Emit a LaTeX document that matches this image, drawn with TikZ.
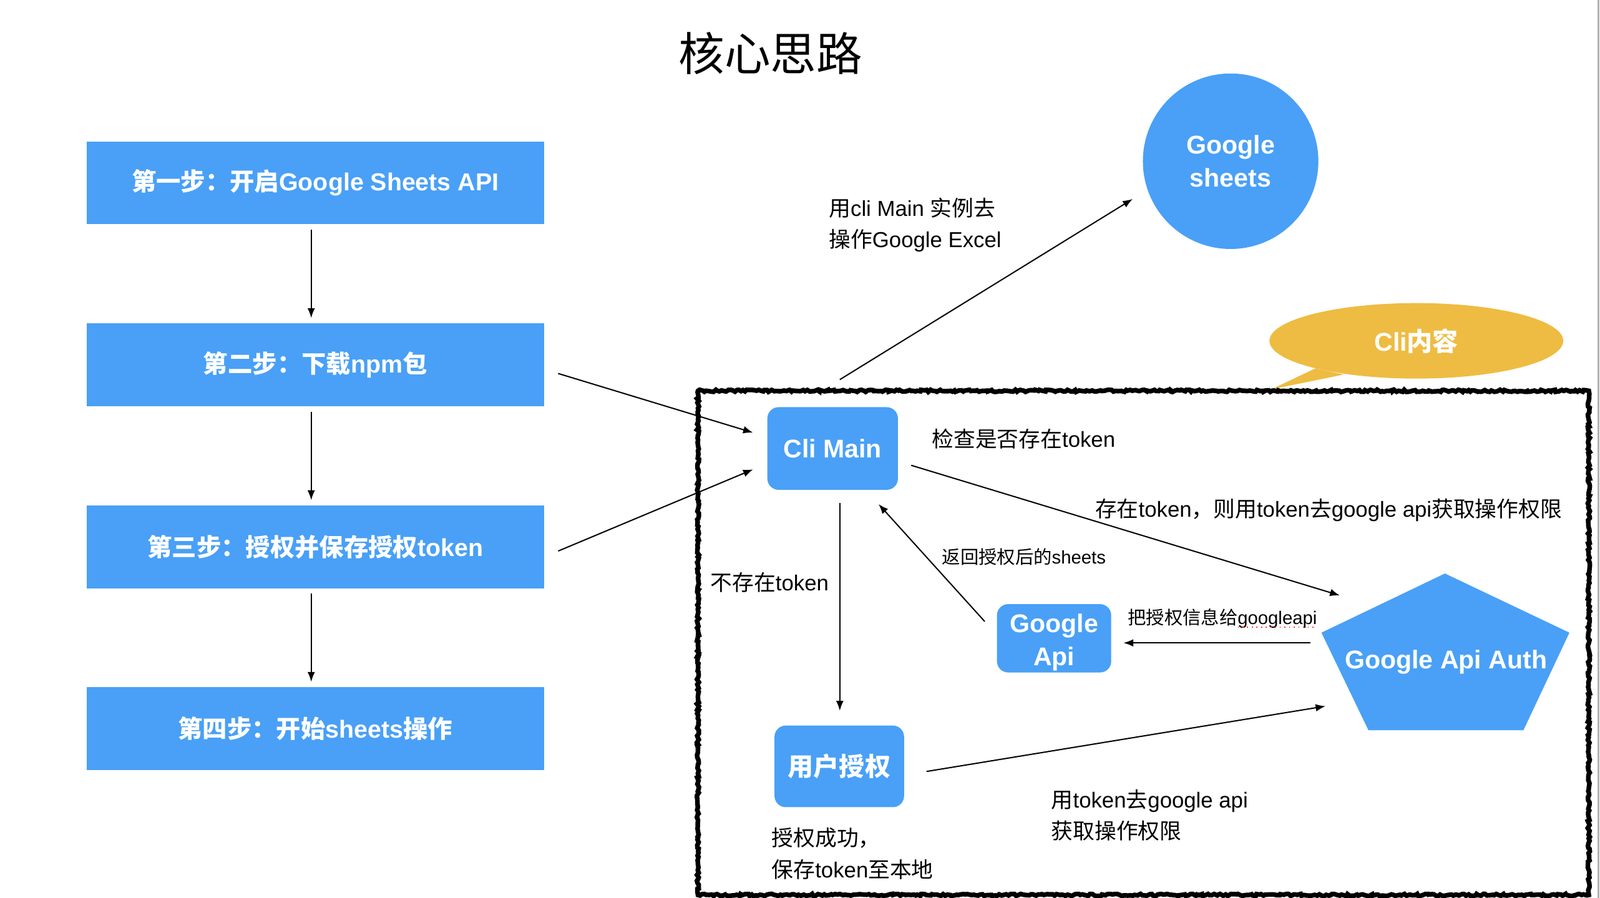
\documentclass[tikz,border=0pt]{standalone}
\usepackage{fontspec}
\setmainfont{Liberation Sans}
\newfontfamily\zh{Noto Sans CJK SC}
\usetikzlibrary{arrows.meta,shapes.geometric,decorations.pathmorphing}
\definecolor{stepblue}{RGB}{73,160,246}
\definecolor{cliyellow}{RGB}{238,188,66}
\tikzset{
  stepbox/.style={fill=stepblue,text=white,font=\bfseries\fontsize{13.7}{16}\selectfont,minimum width=8.96cm,minimum height=1.62cm,inner sep=0},
  clibox/.style={fill=stepblue,text=white,rounded corners=0.22cm,font=\bfseries\fontsize{14.3}{18.2}\selectfont,align=center,inner sep=0},
  arr/.style={-{Latex[length=5.5pt,width=4.2pt]},line width=0.7pt},
  lbl/.style={font=\fontsize{12.1}{17.6}\selectfont,align=left,anchor=west,inner sep=0},
  smalllbl/.style={font=\fontsize{10.2}{13}\selectfont,anchor=west,inner sep=0}
}
\begin{document}
\begin{tikzpicture}[x=0.02cm,y=-0.02cm]
\useasboundingbox (0,0) rectangle (1568,880);
\draw[line width=1pt,black!30] (1566.5,0) -- (1566.5,880);
\node[font=\zh\fontsize{25.6}{30}\selectfont] (title) at (755,52) {核心思路};
\node[stepbox] (step1) at (309,179) {{\zh 第一步：开启}Google Sheets API};
\node[stepbox] (step2) at (309,357.5) {{\zh 第二步：下载}npm{\zh 包}};
\node[stepbox] (step3) at (309,536) {{\zh 第三步：授权并保存授权}token};
\node[stepbox] (step4) at (309,714) {{\zh 第四步：开始}sheets{\zh 操作}};
\draw[arr,shorten <=0.1cm,shorten >=0.1cm] ([xshift=-0.08cm]step1.south) -- ([xshift=-0.08cm]step2.north);
\draw[arr,shorten <=0.1cm,shorten >=0.1cm] ([xshift=-0.08cm]step2.south) -- ([xshift=-0.08cm]step3.north);
\draw[arr,shorten <=0.1cm,shorten >=0.1cm] ([xshift=-0.08cm]step3.south) -- ([xshift=-0.08cm]step4.north);
\node[circle,fill=stepblue,text=white,minimum size=3.44cm,inner sep=0,align=center,font=\bfseries\fontsize{14.3}{18.2}\selectfont] (sheets) at (1206,158) {Google\\sheets};
\fill[cliyellow] (1289,361) -- (1246,381.5) -- (1317,367) -- cycle;
\node[ellipse,fill=cliyellow,text=white,minimum width=5.76cm,minimum height=1.48cm,inner sep=0,font=\bfseries\fontsize{14.3}{18.2}\selectfont] (cli) at (1388,334) {Cli{\zh 内容}};
\draw[line width=2.6pt,decorate,decoration={random steps,segment length=1.2pt,amplitude=0.6pt}] (684,383) rectangle (1557,877);
\node[clibox,minimum width=2.56cm,minimum height=1.62cm] (climain) at (816,439.5) {Cli Main};
\node[clibox,minimum width=2.24cm,minimum height=1.34cm] (gapi) at (1033,625.5) {\rule{0pt}{15pt}Google\\Api};
\node[clibox,minimum width=2.54cm,minimum height=1.6cm] (user) at (822.5,751) {\zh 用户授权};
\fill[stepblue] (1416,562) -- (1538,620) -- (1493,715.5) -- (1341,715.5) -- (1295,620) -- cycle;
\node[text=white,font=\bfseries\fontsize{14.3}{18.2}\selectfont] (auth) at (1417,649) {Google Api Auth};
\coordinate (s2out) at (547,366);
\coordinate (s3out) at (547,540);
\coordinate (cmin1) at (738,424);
\coordinate (cmin2) at (738,460);
\coordinate (cmtop) at (823,372);
\coordinate (shin) at (1110,195);
\coordinate (cmright) at (893,456);
\coordinate (authin1) at (1313,583.5);
\coordinate (gapiout) at (965,609);
\coordinate (cmback) at (861,494);
\coordinate (authout) at (1284,630);
\coordinate (gapiin) at (1101,630);
\coordinate (cmdown) at (823,493);
\coordinate (userin) at (823,696.5);
\coordinate (userout) at (908,756);
\coordinate (authin2) at (1299,692);
\draw[arr] (s2out) -- (cmin1);
\draw[arr] (s3out) -- (cmin2);
\draw[arr] (cmtop) -- (shin);
\draw[arr] (cmright) -- (authin1);
\draw[arr] (gapiout) -- (cmback);
\draw[arr] (authout) -- (gapiin);
\draw[arr] (cmdown) -- (userin);
\draw[arr] (userout) -- (authin2);
\node[lbl] (lsheets) at (812,220.5) {{\zh 用}cli Main {\zh 实例去}\\{\zh 操作}Google Excel};
\node[lbl] (lcheck) at (913,430) {{\zh 检查是否存在}token};
\node[lbl] (lhas) at (1073,500) {{\zh 存在}token{\zh ，则用}token{\zh 去}google api{\zh 获取操作权限}};
\node[smalllbl] (lback) at (923,546) {{\zh 返回授权后的}sheets};
\node[smalllbl] (lgive) at (1105,606) {{\zh 把授权信息给}googleapi};
\draw[red!80,dotted,line width=0.6pt] (1213,614.5) -- (1290,614.5);
\node[lbl] (lnone) at (696,571) {{\zh 不存在}token};
\node[lbl] (lsave) at (756,836.5) {{\zh 授权成功，}\\{\zh 保存}token{\zh 至本地}};
\node[lbl] (luse) at (1030,799) {{\zh 用}token{\zh 去}google api\\{\zh 获取操作权限}};
\end{tikzpicture}
\end{document}
